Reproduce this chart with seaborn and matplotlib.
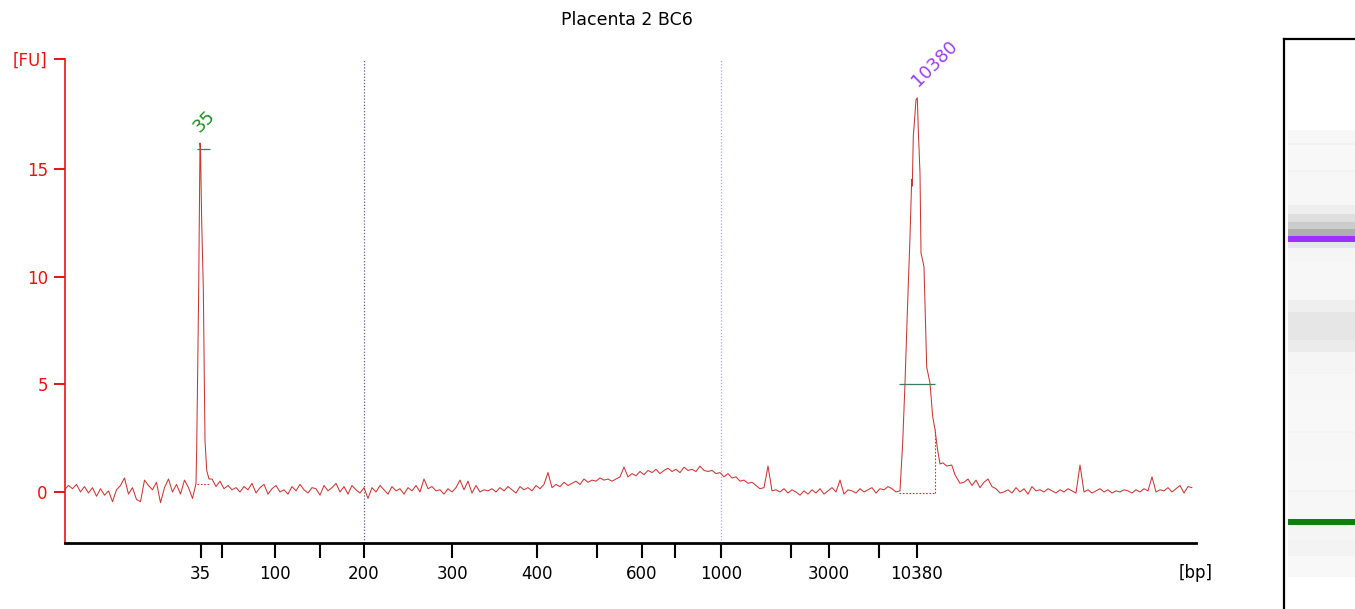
"""
Electropherogram of sample "Placenta 2 BC6" with its virtual gel lane.
Saved as out.png (1355x609).
"""

import numpy as np
import pandas as pd
import matplotlib
import matplotlib.pyplot as plt
import seaborn as sns

matplotlib.use("Agg")

# ---- data -----------------------------------------------------------------
# x is the run position (same scale as the size ladder ticks below)
TITLE = "Placenta 2 BC6"

base_pre_x = np.arange(64.5, 193.0, 4.0)
base_pre_fu = [0.1, 0.3, 0.15, 0.35, 0.0, 0.25, -0.05, 0.2, -0.2, 0.15,
               -0.15, 0.05, -0.45, 0.1, 0.3, 0.65, -0.1, 0.2, -0.35, -0.45,
               0.55, 0.3, 0.1, 0.45, -0.5, 0.2, 0.6, 0.0, 0.35, -0.1,
               0.55, 0.2, -0.3]

peak35_x = [196.0, 196.7, 198.7, 200.0, 200.5, 201.7, 203.3, 205.0, 206.7, 209.0]
peak35_fu = [0.4, 2.0, 9.5, 16.2, 16.0, 12.5, 9.5, 2.4, 1.0, 0.6]

mid_x = np.arange(212.0, 897.0, 4.0)
mid_fu = [0.6, 0.25, 0.5, 0.15, 0.3, 0.1, 0.2, 0.0, 0.25, 0.1,
          0.4, -0.05, 0.2, 0.35, -0.1, 0.15, 0.3, 0.0, 0.1, -0.1,
          0.25, 0.05, 0.35, 0.1, -0.05, 0.2, 0.15, -0.15, 0.3, 0.05,
          0.2, 0.4, 0.0, 0.25, -0.1, 0.3, 0.1, -0.05, 0.2, -0.3,
          0.2, 0.0, 0.3, 0.1, -0.1, 0.25, 0.05, 0.15, -0.1, 0.2,
          0.05, 0.3, 0.0, 0.6, 0.15, 0.25, 0.05, 0.1, -0.1, 0.15,
          0.0, 0.2, 0.55, 0.1, 0.5, -0.05, 0.3, 0.0, 0.1, 0.05,
          0.15, 0.0, 0.2, 0.05, 0.25, 0.1, -0.05, 0.25, 0.1, 0.2,
          0.05, 0.3, 0.15, 0.35, 0.9, 0.2, 0.35, 0.25, 0.45, 0.3,
          0.4, 0.5, 0.35, 0.6, 0.45, 0.55, 0.5, 0.65, 0.55, 0.6,
          0.5, 0.6, 0.7, 1.15, 0.7, 0.85, 0.75, 0.95, 0.8, 1.0,
          0.9, 1.05, 0.85, 1.0, 1.1, 0.95, 1.05, 0.9, 1.15, 1.0,
          1.05, 0.95, 1.2, 1.0, 0.95, 1.0, 0.85, 0.9, 0.7, 0.85,
          0.65, 0.7, 0.5, 0.55, 0.4, 0.45, 0.3, 0.15, 0.2, 1.2,
          0.05, 0.1, 0.0, 0.15, -0.05, 0.1, 0.0, -0.15, 0.05, -0.1,
          0.1, -0.05, 0.15, -0.1, 0.05, 0.2, 0.0, 0.55, -0.1, 0.1,
          0.05, -0.05, 0.15, 0.0, 0.1, 0.2, -0.05, 0.15, 0.1, 0.25,
          0.15, 0.0]

peak10k_x = [900.0, 902.7, 905.0, 907.3, 910.0, 911.7, 912.3, 913.3, 916.0,
             917.3, 918.3, 920.0, 921.0, 924.0, 926.7, 930.0, 932.7, 935.0,
             937.3, 940.0, 943.0, 946.7, 951.7, 955.0, 960.0]
peak10k_fu = [0.05, 2.3, 5.05, 8.3, 11.85, 14.5, 14.2, 16.5, 18.2,
              18.3, 16.8, 14.8, 11.1, 10.45, 5.8, 5.05, 3.5, 2.9,
              2.05, 1.3, 1.35, 1.2, 1.25, 0.8, 0.4]

tail_x = np.arange(964.0, 1193.0, 4.0)
tail_fu = [0.45, 0.6, 0.3, 0.55, 0.2, 0.45, 0.6, 0.25, 0.15, -0.05,
           0.0, 0.1, -0.05, 0.2, 0.0, 0.15, -0.1, 0.25, 0.05, 0.1,
           0.0, 0.15, 0.05, -0.05, 0.1, 0.0, 0.15, 0.05, -0.05, 1.25,
           0.0, 0.1, -0.05, 0.05, 0.15, 0.0, 0.1, -0.05, 0.05, 0.0,
           0.1, 0.05, -0.05, 0.1, 0.0, 0.15, 0.05, 0.7, 0.0, 0.1,
           0.05, 0.2, 0.0, 0.15, 0.3, -0.05, 0.25, 0.2]

# size ladder ticks
ladder_pos = [200.7, 222.0, 274.8, 320.4, 364.0, 452.0, 537.0, 596.7,
              642.0, 674.8, 720.8, 791.0, 828.6, 879.2, 916.8]
ladder_lab = ["35", "", "100", "", "200", "300", "400", "",
              "600", "", "1000", "", "3000", "", "10380"]
fu_ticks = [0, 5, 10, 15, 20.1]
fu_labels = ["0", "5", "10", "15", "[FU]"]

# called peaks: label, apex position, apex FU, colour
peak_labels = ["35", "10380"]
peak_pos = [200.0, 917.0]
peak_fu = [16.2, 18.3]
peak_colors = ["#1e8c1e", "#9b3ff2"]
# peak integration: marker level, start, end, baseline level, right-edge FU
peak_mark_fu = [15.93, 5.0]
peak_start = [196.5, 899.0]
peak_end = [210.0, 935.0]
peak_base_fu = [0.36, -0.03]
peak_edge_fu = [0.36, 2.9]

# alignment reference lines (200 bp and 1000 bp)
ref_pos = [364.0, 720.5]
ref_colors = ["#5c5ca0", "#a8a8e8"]

# gel lane (pixel rows below the lane box top), grey level per segment
gel_edges = [130, 143, 145, 170, 172, 205, 214, 222, 229, 236, 241, 248, 262,
             300, 312, 340, 352, 372, 374, 400, 431, 433, 462, 490, 492, 519,
             525, 540, 556, 577]
gel_gray = [0.965, 0.945, 0.97, 0.95, 0.965, 0.93, 0.87, 0.8, 0.68, 0.55,
            0.9, 0.96, 0.965, 0.935, 0.9, 0.92, 0.96, 0.95, 0.965, 0.97,
            0.95, 0.965, 0.97, 0.95, 0.965, 0.5, 0.96, 0.95, 0.97]
gel_band_top = [235.5, 519.0]
gel_band_bottom = [241.5, 525.0]
gel_band_colors = ["#9b30ff", "#0d800d"]

# ---- style ----------------------------------------------------------------
sns.set_theme(style="white")
plt.rcParams["font.family"] = ["DejaVu Sans"]

TRACE = "#cc3535"
AXIS_RED = "#ee1111"

fig = plt.figure(figsize=(13.55, 6.09), dpi=100)
ax = fig.add_axes([64.5 / 1355, 66 / 609, 1131 / 1355, 484 / 609])

trace = pd.DataFrame({
    "pos": np.concatenate([base_pre_x, peak35_x, mid_x, peak10k_x, tail_x]),
    "fu": np.concatenate([base_pre_fu, peak35_fu, mid_fu, peak10k_fu, tail_fu]),
})
sns.lineplot(data=trace, x="pos", y="fu", ax=ax, color=TRACE, linewidth=0.75,
             estimator=None, sort=False)

for x, c in zip(ref_pos, ref_colors):
    ax.axvline(x, color=c, linestyle=(0, (1, 1.5)), linewidth=0.9, zorder=0)

for i in range(len(peak_labels)):
    ax.hlines(peak_mark_fu[i], peak_start[i], peak_end[i], color="#3a7d62", linewidth=0.9)
    ax.hlines(peak_base_fu[i], peak_start[i], peak_end[i], color=TRACE,
              linestyle=(0, (1.5, 1.5)), linewidth=0.8)
    ax.vlines(peak_end[i], peak_base_fu[i], peak_edge_fu[i], color=TRACE,
              linestyle=(0, (1.5, 1.5)), linewidth=0.8)

ax.annotate(peak_labels[0], (peak_pos[0], peak_fu[0]), xytext=(4, 22),
            textcoords="offset pixels", rotation=45, ha="center", va="center",
            color=peak_colors[0], fontsize=13)
ax.annotate(peak_labels[1], (peak_pos[1], peak_fu[1]), xytext=(18, 34),
            textcoords="offset pixels", rotation=45, ha="center", va="center",
            color=peak_colors[1], fontsize=13)

ax.set_xlim(64.5, 1195.5)
ax.set_ylim(-2.37, 20.1)
ax.set_xticks(ladder_pos)
ax.set_xticklabels(ladder_lab)
ax.set_yticks(fu_ticks)
ax.set_yticklabels(fu_labels)
ax.set_xlabel("")
ax.set_ylabel("")

for s in ["top", "right"]:
    ax.spines[s].set_visible(False)
ax.spines["left"].set_color(AXIS_RED)
ax.spines["left"].set_linewidth(1.2)
ax.spines["bottom"].set_color("black")
ax.spines["bottom"].set_linewidth(2.0)

ax.tick_params(axis="x", which="both", bottom=True, length=11, width=1.5,
               color="black", labelsize=12, pad=5, labelcolor="black")
ax.tick_params(axis="y", which="both", left=True, length=8, width=1.4,
               color=AXIS_RED, labelsize=12, pad=4, labelcolor=AXIS_RED)

ax.text(1.0, -0.062, "[bp]", transform=ax.transAxes, ha="center", va="center",
        fontsize=12, color="black")
fig.text(627 / 1355, 1 - 20 / 609, TITLE, ha="center", va="center",
         fontsize=12.5, color="black")

# ---- gel lane ---------------------------------------------------------------
gax = fig.add_axes([1284 / 1355, -30 / 609, 100 / 1355, 600 / 609])
TOP = 39
gel = np.ones((600, 1))
for j in range(len(gel_gray)):
    gel[gel_edges[j] - TOP:gel_edges[j + 1] - TOP, 0] = gel_gray[j]

sns.heatmap(gel, ax=gax, cmap="gray", vmin=0, vmax=1, cbar=False,
            xticklabels=False, yticklabels=False)
for t, b, c in zip(gel_band_top, gel_band_bottom, gel_band_colors):
    gax.axhspan(t - TOP, b - TOP, xmin=0.04, xmax=1.0, color=c, linewidth=0)
gax.set_xlim(-0.04, 1.0)
for s in gax.spines.values():
    s.set_visible(True)
    s.set_color("black")
    s.set_linewidth(1.6)

fig.savefig("out.png", dpi=100)
plt.close(fig)
